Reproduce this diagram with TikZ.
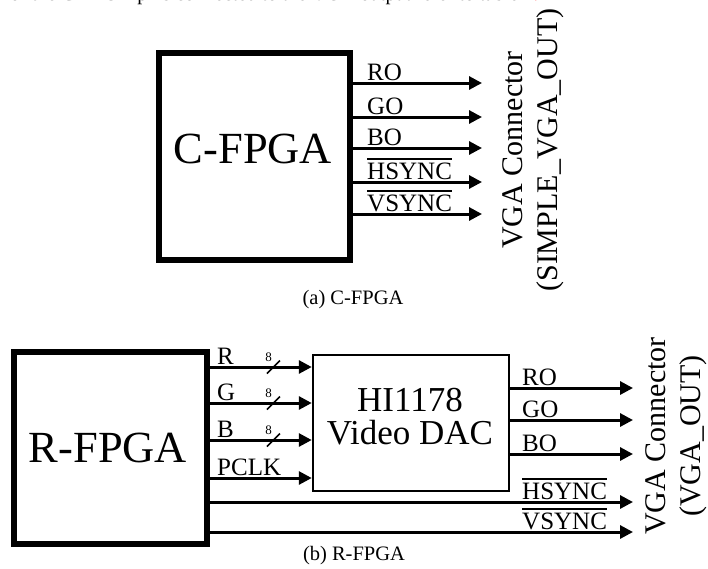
\documentclass[tikz,border=0pt]{standalone}
\usepackage{fontspec}
\setmainfont{Liberation Serif}
\usetikzlibrary{arrows.meta}
\newcommand{\myovl}[1]{\leavevmode\vbox{\hrule height 1.5pt\kern 2.6pt\hbox{#1}}}
\tikzset{
  fpgabox/.style={draw, line width=5.5pt, rectangle, inner sep=0pt},
  dacbox/.style={draw, line width=2.5pt, rectangle, inner sep=0pt},
  sig/.style={line width=3pt, -{Triangle[length=13pt,width=13pt]}},
  siglabel/.style={anchor=base west, inner sep=0pt, font=\fontsize{25}{28}\selectfont},
  buslabel/.style={inner sep=0pt, font=\fontsize{13}{15}\selectfont},
  busslash/.style={line width=1.5pt},
  biglabel/.style={inner sep=0pt, font=\fontsize{44.5}{48}\selectfont},
  daclabel/.style={inner sep=0pt, align=center, font=\fontsize{35}{33}\selectfont},
  conn/.style={rotate=90, inner sep=0pt, align=center, font=\fontsize{30}{35}\selectfont},
  caption/.style={anchor=base, inner sep=0pt, font=\fontsize{20.5}{24}\selectfont},
}
\begin{document}
\begin{tikzpicture}[x=1pt,y=-1pt]
\useasboundingbox (0,0) rectangle (708,568);
\clip (0,0) rectangle (708,568);

% clipped text line of the surrounding document
\node[anchor=base west, inner sep=0pt, font=\fontsize{20}{24}\selectfont] (toptext) at (10,0.5)
  {of the C-FPGA pins connected to the VGA output refer to table \textcolor{red}{2.4}};

% ---------------- (a) C-FPGA ----------------
\node[fpgabox, minimum width=191pt, minimum height=207pt] (cf) at (254.5,156.5) {};
\node[biglabel] (cflab) at (253,149) {C-FPGA};

\coordinate (ca1) at (482,83);
\coordinate (ca2) at (482,117);
\coordinate (ca3) at (482,148);
\coordinate (ca4) at (482,182);
\coordinate (ca5) at (482,214);
\draw[sig] (cf.east |- ca1) -- (ca1);
\draw[sig] (cf.east |- ca2) -- (ca2);
\draw[sig] (cf.east |- ca3) -- (ca3);
\draw[sig] (cf.east |- ca4) -- (ca4);
\draw[sig] (cf.east |- ca5) -- (ca5);
\node[siglabel] (la1) at (367,80) {RO};
\node[siglabel] (la2) at (367,114) {GO};
\node[siglabel] (la3) at (367,145) {BO};
\node[siglabel] (la4) at (367,179) {\myovl{HSYNC}};
\node[siglabel] (la5) at (367,211) {\myovl{VSYNC}};

\node[conn] (vgaa) at (533,150) {VGA Connector\\(SIMPLE\_VGA\_OUT)};
\node[caption] (capa) at (353,304) {(a) C-FPGA};

% ---------------- (b) R-FPGA ----------------
\node[fpgabox, minimum width=193pt, minimum height=192pt] (rf) at (110.5,448) {};
\node[biglabel] (rflab) at (108,448) {R-FPGA};

\node[dacbox, minimum width=196pt, minimum height=136pt] (dac) at (411,423) {};
\node[daclabel] (daclab) at (410,417) {HI1178\\Video DAC};

\coordinate (ri1) at (0,367);
\coordinate (ri2) at (0,403);
\coordinate (ri3) at (0,440);
\coordinate (ri4) at (0,478);
\draw[sig] (rf.east |- ri1) -- (dac.west |- ri1);
\draw[sig] (rf.east |- ri2) -- (dac.west |- ri2);
\draw[sig] (rf.east |- ri3) -- (dac.west |- ri3);
\draw[sig] (rf.east |- ri4) -- (dac.west |- ri4);
\node[siglabel] (lb1) at (217,364) {R};
\node[siglabel] (lb2) at (217,400) {G};
\node[siglabel] (lb3) at (217,437) {B};
\node[siglabel] (lb4) at (217,475) {PCLK};

% bus width marks
\foreach \yy/\nm in {367/1,403/2,440/3}{
  \coordinate (bs\nm) at (274,\yy);
  \draw[busslash] ([shift={(-7,6.5)}]bs\nm) -- ([shift={(6,-6.5)}]bs\nm);
  \node[buslabel] (bn\nm) at ([shift={(-5.5,-9.5)}]bs\nm) {8};
}

\coordinate (cb1) at (633,388);
\coordinate (cb2) at (633,420);
\coordinate (cb3) at (633,454);
\coordinate (cb4) at (633,502);
\coordinate (cb5) at (633,532);
\draw[sig] (dac.east |- cb1) -- (cb1);
\draw[sig] (dac.east |- cb2) -- (cb2);
\draw[sig] (dac.east |- cb3) -- (cb3);
\draw[sig] (rf.east |- cb4) -- (cb4);
\draw[sig] (rf.east |- cb5) -- (cb5);
\node[siglabel] (lc1) at (522,385) {RO};
\node[siglabel] (lc2) at (522,417) {GO};
\node[siglabel] (lc3) at (522,451) {BO};
\node[siglabel] (lc4) at (522,499) {\myovl{HSYNC}};
\node[siglabel] (lc5) at (522,529) {\myovl{VSYNC}};

\node[conn] (vgab) at (676,436) {VGA Connector\\(VGA\_OUT)};
\node[caption] (capb) at (354,560) {(b) R-FPGA};
\end{tikzpicture}
\end{document}
